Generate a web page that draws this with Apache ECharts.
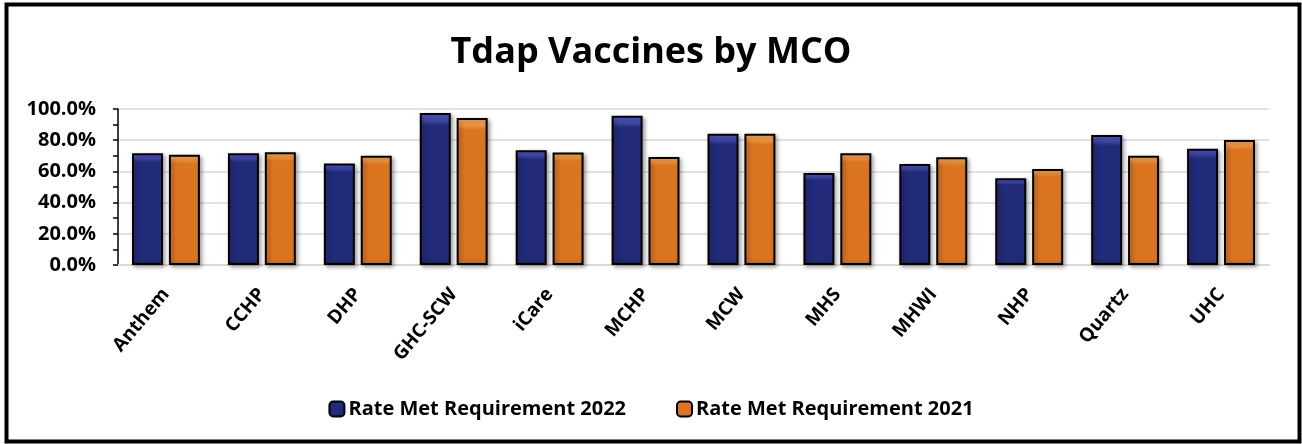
<!DOCTYPE html>
<html>
<head>
<meta charset="utf-8">
<script src="https://cdn.jsdelivr.net/npm/echarts@6/dist/echarts.min.js"></script>
<style>
html,body{margin:0;padding:0;background:#fff;}
#main{width:1302px;height:444px;}
</style>
</head>
<body>
<div id="main"></div>
<script>
// 数据
var categories = ["Anthem","CCHP","DHP","GHC-SCW","iCare","MCHP","MCW","MHS","MHWI","NHP","Quartz","UHC"];
var rate2022 = [0.717,0.717,0.650,0.974,0.736,0.957,0.841,0.590,0.648,0.556,0.833,0.745];
var rate2021 = [0.706,0.723,0.700,0.942,0.721,0.693,0.841,0.717,0.691,0.616,0.700,0.802];
var seriesNames = ["Rate Met Requirement 2022","Rate Met Requirement 2021"];

var fontFam = "Open Sans";

function barGrad(top, mid, base, bottom){
    return new echarts.graphic.LinearGradient(0,0,0,1,[
        {offset:0,color:top},
        {offset:0.05,color:mid},
        {offset:0.08,color:base},
        {offset:0.94,color:base},
        {offset:1,color:bottom}
    ]);
}
var blueFill = barGrad("#5A62C4","#3E47A8","#222B7A","#1D2568");
var orangeFill = barGrad("#FBB870","#F0963E","#DC7520","#C9691C");

var myChart = echarts.init(document.getElementById('main'));
myChart.setOption({
    backgroundColor:"#fff",
    animation:false,
    textStyle:{fontFamily:fontFam},
    title:{
        text:"Tdap Vaccines by MCO",
        left:"center",
        top:30,
        textStyle:{fontSize:36,fontWeight:"bold",color:"#000",fontFamily:fontFam}
    },
    graphic:[{
        type:"rect",
        shape:{x:6.5,y:4.5,width:1293,height:437},
        style:{fill:null,stroke:"#000",lineWidth:4},
        silent:true
    }],
    legend:{
        bottom:20,
        left:"center",
        itemWidth:15,
        itemHeight:15,
        itemGap:50,
        textStyle:{fontSize:20,fontWeight:"bold",color:"#000",fontFamily:fontFam,padding:[0,0,0,-1]},
        data:seriesNames
    },
    grid:{left:118,right:33,top:109,bottom:179,containLabel:false},
    xAxis:{
        type:"category",
        data:categories,
        axisLine:{lineStyle:{color:"#d9d9d9",width:2}},
        axisTick:{show:false},
        axisLabel:{rotate:50,fontSize:19,fontWeight:"bold",color:"#000",margin:26,interval:0}
    },
    yAxis:{
        type:"value",
        min:0,
        max:1,
        interval:0.2,
        axisLine:{show:true,lineStyle:{color:"#000",width:1.5}},
        axisTick:{show:true,length:5,lineStyle:{color:"#000",width:1.5}},
        minorTick:{show:true,splitNumber:2,length:5,lineStyle:{color:"#000",width:1.5}},
        splitLine:{lineStyle:{color:"#d9d9d9",width:1.5}},
        axisLabel:{
            fontSize:20,fontWeight:"bold",color:"#000",margin:22,
            formatter:function(v){return (v*100).toFixed(1)+"%";}
        }
    },
    series:[{
        name:seriesNames[0],
        type:"bar",
        data:rate2022,
        barWidth:31,
        barGap:"19%",
        itemStyle:{color:blueFill,borderColor:"#000",borderWidth:2,
            shadowColor:"rgba(0,0,0,0.35)",shadowBlur:4,shadowOffsetX:2,shadowOffsetY:2}
    },{
        name:seriesNames[1],
        type:"bar",
        data:rate2021,
        barWidth:31,
        barGap:"19%",
        itemStyle:{color:orangeFill,borderColor:"#000",borderWidth:2,
            shadowColor:"rgba(0,0,0,0.35)",shadowBlur:4,shadowOffsetX:2,shadowOffsetY:2}
    }]
});
window.addEventListener("resize", function() {
    myChart.resize();
});
</script>
</body>
</html>
